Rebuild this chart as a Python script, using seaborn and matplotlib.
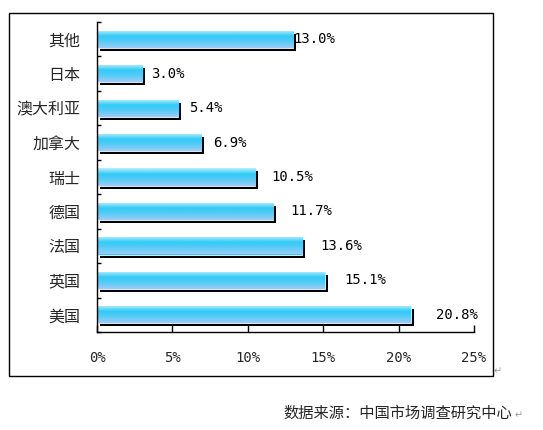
import numpy as np
import pandas as pd
import matplotlib
matplotlib.use('Agg')
import matplotlib.pyplot as plt
import matplotlib.patheffects as pe
from matplotlib.colors import LinearSegmentedColormap
from matplotlib.patches import Rectangle
import seaborn as sns

countries = ['其他', '日本', '澳大利亚', '加拿大', '瑞士', '德国', '法国', '英国', '美国']
shares = [13.0, 3.0, 5.4, 6.9, 10.5, 11.7, 13.6, 15.1, 20.8]
x_ticks = [0, 5, 10, 15, 20, 25]
source = '数据来源：中国市场调查研究中心'

sns.set_theme(style='white')
plt.rcParams['font.family'] = ['Noto Sans CJK SC', 'DejaVu Sans']

df = pd.DataFrame({'country': countries, 'share': shares})

fig = plt.figure(figsize=(5.43, 4.30), dpi=100)
ax = fig.add_axes([97 / 543, 98 / 430, 377 / 543, 310 / 430])

sns.barplot(data=df, x='share', y='country', order=countries, orient='h',
            color='#33CCFF', width=0.5, saturation=1, ax=ax)

ax.set_xlim(0, 25)
ax.set_ylim(8.5, -0.5)
ax.set_autoscale_on(False)

# cyan-to-pale-blue fill, top to bottom
grad = LinearSegmentedColormap.from_list('bar', ['#B8EEFF', '#30CBF6', '#5ACBF7', '#9ECCF8'])
for p in ax.patches:
    p.set_path_effects([pe.SimplePatchShadow(offset=(2.2, -2.2), shadow_rgbFace='black', alpha=1.0),
                        pe.Normal()])
    p.set_edgecolor('white')
    p.set_linewidth(0.6)
    x0, y0 = p.get_x(), p.get_y()
    w, h = p.get_width(), p.get_height()
    img = ax.imshow(np.linspace(0, 1, 50).reshape(-1, 1), cmap=grad, aspect='auto',
                    extent=[x0, x0 + w, y0 + h, y0], origin='upper', zorder=p.get_zorder() + 0.1,
                    interpolation='bilinear')
    img.set_clip_path(p)

for i, v in enumerate(shares):
    lx = v + 0.05 if i == 0 else v * 1.06 + 0.4
    ax.text(lx, i, f'{v:.1f}%', va='center', ha='left', fontsize=10,
            family=['DejaVu Sans Mono'], color='black')

sns.despine(ax=ax)
for s in ['left', 'bottom']:
    ax.spines[s].set_color('black')
    ax.spines[s].set_linewidth(1.0)

ax.set_xticks(x_ticks)
ax.set_xticklabels([f'{t}%' for t in x_ticks], family=['DejaVu Sans Mono'], fontsize=10)
ax.tick_params(axis='x', direction='in', length=5, width=1, color='black', pad=14, bottom=True)
ax.set_yticks(range(len(countries)))
ax.set_yticklabels(countries, fontsize=11.5)
ax.tick_params(axis='y', which='major', length=0, pad=12)
ax.set_yticks(np.arange(-0.5, len(countries), 1), minor=True)
ax.tick_params(axis='y', which='minor', direction='in', length=3, width=1, color='black', left=True)
ax.set_xlabel('')
ax.set_ylabel('')

fig.add_artist(Rectangle((9 / 543, 54 / 430), 484 / 543, 363 / 430, transform=fig.transFigure,
                         fill=False, edgecolor='black', linewidth=1.0))
fig.text(494 / 543, 54 / 430, '↵', fontsize=7, color='#999999', ha='left', va='bottom')
fig.text(283 / 543, 17 / 430, source, fontsize=11, ha='left', va='center')
fig.text(515 / 543, 15 / 430, '↵', fontsize=7, color='#999999', ha='left', va='center')

fig.savefig('out.png', dpi=100)
